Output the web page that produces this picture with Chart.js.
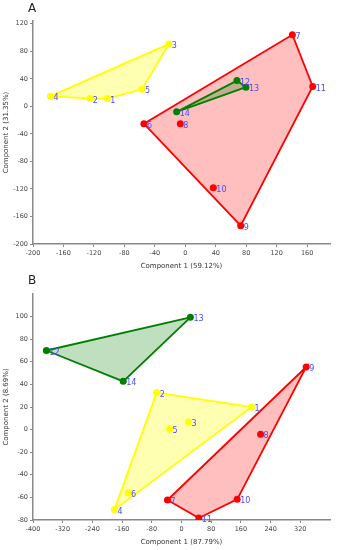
<!DOCTYPE html>
<html>
<head>
<meta charset="utf-8">
<script src="https://cdn.jsdelivr.net/npm/chart.js@4.4.1/dist/chart.umd.min.js"></script>
<style>
  body { margin: 0; background: #fff; width: 344px; height: 550px; position: relative; overflow: hidden; font-family: "DejaVu Sans", sans-serif; }
  .wrap { position: absolute; left: 0; width: 344px; }
  .tag { position: absolute; left: 28px; font-size: 12px; color: #222; }
</style>
</head>
<body>
<div class="wrap" style="top:0;height:272px"><canvas id="chartA" width="344" height="272"></canvas></div>
<div class="tag" style="top:1px">A</div>
<div class="wrap" style="top:272px;height:278px"><canvas id="chartB" width="344" height="278"></canvas></div>
<div class="tag" style="top:273px">B</div>
<script>
// panel A
const idsA = [1, 2, 3, 4, 5, 6, 7, 8, 9, 10, 11, 12, 13, 14];
const comp1A = [-102.5, -125.4, -21.6, -177, -57, -54.4, 140.6, -6.6, 72.7, 36.8, 167.3, 67.8, 79.6, -11.4];
const comp2A = [11.3, 11.3, 90.5, 14.8, 24.7, -25.2, 104, -25.2, -173.4, -118.3, 28.8, 37.4, 27.8, -8];
const yellowA = [1, 2, 3, 4, 5];
const redA = [6, 7, 8, 9, 10, 11];
const greenA = [12, 13, 14];
const hullYellowA = [4, 3, 5, 1, 2];
const hullRedA = [6, 7, 11, 9];
const hullGreenA = [14, 12, 13];

// panel B
const idsB = [1, 2, 3, 4, 5, 6, 7, 8, 9, 10, 11, 12, 13, 14];
const comp1B = [188.7, -67, 18.9, -180.6, -32, -144, -37.7, 213, 335.8, 150, 46.6, -364, 24, -157];
const comp2B = [20, 32.7, 6.7, -70.8, 0.5, -55.8, -62.3, -4.2, 55.4, -61.7, -78.2, 70, 99.4, 42.7];
const yellowB = [1, 2, 3, 4, 5, 6];
const redB = [7, 8, 9, 10, 11];
const greenB = [12, 13, 14];
const hullYellowB = [2, 1, 4];
const hullRedB = [7, 9, 10, 11];
const hullGreenB = [12, 13, 14];

const colors = {
    yellow: { line: "#ffff00", fill: "rgba(255,255,0,0.3)" },
    red: { line: "#ff0000", fill: "rgba(255,0,0,0.25)" },
    green: { line: "#008000", fill: "rgba(0,128,0,0.25)" }
};

const pointLabels = {
    id: "pointLabels",
    afterDatasetsDraw(chart) {
        const ctx = chart.ctx;
        ctx.save();
        ctx.font = "8px 'DejaVu Sans'";
        ctx.fillStyle = "#4a4aff";
        ctx.textBaseline = "middle";
        chart.data.datasets.forEach((ds, i) => {
            if (!ds.ptIds) return;
            chart.getDatasetMeta(i).data.forEach((el, j) => {
                ctx.fillText(String(ds.ptIds[j]), el.x + 3, el.y + 2);
            });
        });
        ctx.restore();
    }
};

function pts(ids, xs, ys, list) {
    return list.map(id => ({ x: xs[ids.indexOf(id)], y: ys[ids.indexOf(id)] }));
}

function axis(min, max, step, title, size) {
    return {
        type: "linear",
        min: min,
        max: max,
        afterBuildTicks: s => {
            const t = [];
            for (let v = min; v < max; v += step) t.push({ value: v });
            s.ticks = t;
        },
        afterFit: s => { if (s.isHorizontal()) s.height = size; else s.width = size; },
        ticks: { autoSkip: false, maxRotation: 0, padding: 2, color: "#444", font: { family: "DejaVu Sans", size: 6.5 } },
        grid: { drawOnChartArea: false, tickLength: 3, color: "#888" },
        border: { color: "#888", width: 1.5 },
        title: { display: true, text: title, color: "#333", padding: 2, font: { family: "DejaVu Sans", size: 7 } }
    };
}

function makeChart(id, ids, xs, ys, groups, hulls, xAxis, yAxis, pad) {
    const names = ["green", "yellow", "red"];
    const datasets = [];
    names.forEach(n => {
        datasets.push({
            data: pts(ids, xs, ys, groups[n]),
            ptIds: groups[n],
            backgroundColor: colors[n].line,
            borderColor: colors[n].line,
            pointRadius: 3.5,
            pointBorderWidth: 0
        });
    });
    names.forEach(n => {
        const h = hulls[n].concat([hulls[n][0]]);
        datasets.push({
            data: pts(ids, xs, ys, h),
            showLine: true,
            fill: "shape",
            borderColor: colors[n].line,
            backgroundColor: colors[n].fill,
            borderWidth: 1.8,
            pointRadius: 0,
            tension: 0
        });
    });
    return new Chart(document.getElementById(id), {
        type: "scatter",
        data: { datasets: datasets },
        plugins: [pointLabels],
        options: {
            responsive: false,
            animation: false,
            layout: { padding: pad },
            plugins: { legend: { display: false }, tooltip: { enabled: false } },
            scales: { x: xAxis, y: yAxis }
        }
    });
}

makeChart("chartA", idsA, comp1A, comp2A,
    { yellow: yellowA, red: redA, green: greenA },
    { yellow: hullYellowA, red: hullRedA, green: hullGreenA },
    axis(-200, 190, 40, "Component 1 (59.12%)", 28),
    axis(-200, 124, 40, "Component 2 (31.35%)", 33),
    { top: 21, right: 14, bottom: 0, left: 0 });

makeChart("chartB", idsB, comp1B, comp2B,
    { yellow: yellowB, red: redB, green: greenB },
    { yellow: hullYellowB, red: hullRedB, green: hullGreenB },
    axis(-400, 400, 80, "Component 1 (87.79%)", 28),
    axis(-80, 120, 20, "Component 2 (8.69%)", 33),
    { top: 22, right: 14, bottom: 2, left: 0 });
</script>
</body>
</html>
